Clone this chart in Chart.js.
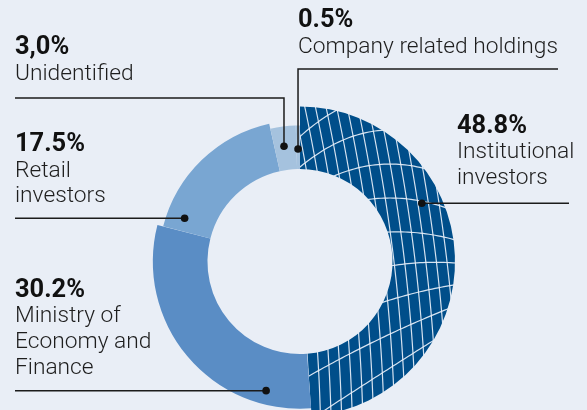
<!DOCTYPE html>
<html>
<head>
<meta charset="utf-8">
<script src="https://cdn.jsdelivr.net/npm/chart.js@4.4.1/dist/chart.umd.min.js"></script>
<style>
  html, body { margin: 0; padding: 0; background: #e9eef6; overflow: hidden; }
  #wrap { position: relative; width: 587px; height: 430px; }
</style>
</head>
<body>
<div id="wrap"><canvas id="chart"></canvas></div>
<script>
// Shareholder structure donut

const categories = ['Institutional investors', 'Ministry of Economy and Finance', 'Retail investors', 'Unidentified', 'Company related holdings'];
const shares = [48.8, 30.2, 17.5, 3.0, 0.5];
const shareLabels = ['48.8%', '30.2%', '17.5%', '3,0%', '0.5%'];
const nameLines = [
    ['Institutional', 'investors'],
    ['Ministry of', 'Economy and', 'Finance'],
    ['Retail', 'investors'],
    ['Unidentified'],
    ['Company related holdings']
];

const colors = ['#004e8a', '#5a8dc5', '#79a6d2', '#a5c2de', '#a5c2de'];
// how much of the ring thickness each slice fills
const ringDepth = [1, 0.875, 0.78, 0.695, 0.695];

// callout layout: text anchor, leader type, dot position along its arc (0..1) and across it
const callouts = [
    { x: 457, y: 132.7, dotAt: 0.367, depth: 0.68, lead: 'right', to: 569 },
    { x: 15, y: 296.7, dotAt: 0.175, depth: 0.75, lead: 'left', to: 15 },
    { x: 15, y: 151, dotAt: 0.098, depth: 0.63, lead: 'left', to: 15 },
    { x: 15, y: 54, dotAt: 0.435, depth: 0.55, lead: 'elbow', to: 15, elbowY: 98 },
    { x: 298, y: 27.3, dotAt: 0.44, depth: 0.46, lead: 'elbow', to: 558, elbowY: 69 }
];
const lineGap = 25.7;
const FONT = 'Roboto, Lato, sans-serif';

function gridPattern(w, h) {
    const c = document.createElement('canvas');
    c.width = w;
    c.height = h;
    const g = c.getContext('2d');
    g.fillStyle = colors[0];
    g.fillRect(0, 0, w, h);
    g.strokeStyle = 'rgba(232, 240, 250, 0.92)';
    g.lineWidth = 1.2;

    // near-vertical lines
    for (let x0 = 150; x0 < 660; x0 += 10.6) {
        g.beginPath();
        for (let y = 80; y <= h; y += 4) {
            const x = x0 + 0.12 * (y - 260) - 0.0003 * (y - 260) ** 2;
            if (y === 80) g.moveTo(x, y); else g.lineTo(x, y);
        }
        g.stroke();
    }

    // curved cross lines
    for (let yk = 96; yk < 500; yk += 34) {
        const t = Math.min(Math.max((yk - 110) / 270, 0), 1);
        const a = 0.005 * Math.pow(1 - t, 1.2);
        const m = 0.7 * Math.pow(Math.max(0, (t - 0.4) / 0.6), 1.2);
        g.beginPath();
        for (let x = 270; x <= 480; x += 3) {
            const y = yk + a * (x - 390) ** 2 - m * (x - 390);
            if (x === 270) g.moveTo(x, y); else g.lineTo(x, y);
        }
        g.stroke();
    }
    return g.createPattern(c, 'no-repeat');
}

const ringDepthPlugin = {
    id: 'ringDepth',
    afterDatasetsUpdate(chart) {
        const meta = chart.getDatasetMeta(0);
        const ctrl = meta.controller;
        meta.data.forEach((arc, i) => {
            arc.outerRadius = ctrl.innerRadius + (ctrl.outerRadius - ctrl.innerRadius) * ringDepth[i];
        });
    }
};

const calloutPlugin = {
    id: 'callouts',
    afterDraw(chart) {
        const ctx = chart.ctx;
        const arcs = chart.getDatasetMeta(0).data;

        ctx.save();
        ctx.font = '300 20px ' + FONT;
        const nameSize = 20 * 260 / ctx.measureText('Company related holdings').width;
        ctx.font = '700 20px ' + FONT;
        const pctSize = 20 * 70 / ctx.measureText('30.2%').width;

        callouts.forEach((c, i) => {
            const arc = arcs[i];
            const ang = arc.startAngle + (arc.endAngle - arc.startAngle) * c.dotAt;
            const r = arc.innerRadius + (arc.outerRadius - arc.innerRadius) * c.depth;
            const dx = arc.x + r * Math.cos(ang);
            const dy = arc.y + r * Math.sin(ang);

            ctx.strokeStyle = '#1b1b1b';
            ctx.lineWidth = 1.5;
            ctx.beginPath();
            if (c.lead === 'elbow') {
                ctx.moveTo(c.to, c.elbowY);
                ctx.lineTo(dx, c.elbowY);
                ctx.lineTo(dx, dy);
            } else {
                ctx.moveTo(c.to, dy);
                ctx.lineTo(dx, dy);
            }
            ctx.stroke();

            ctx.fillStyle = '#111';
            ctx.beginPath();
            ctx.arc(dx, dy, 3.8, 0, Math.PI * 2);
            ctx.fill();

            ctx.textAlign = 'left';
            ctx.textBaseline = 'alphabetic';
            ctx.font = '700 ' + pctSize + 'px ' + FONT;
            ctx.fillStyle = '#111';
            ctx.fillText(shareLabels[i], c.x, c.y);
            ctx.font = '300 ' + nameSize + 'px ' + FONT;
            ctx.fillStyle = '#1e1e1e';
            nameLines[i].forEach((line, k) => {
                ctx.fillText(line, c.x, c.y + lineGap * (k + 1));
            });
        });
        ctx.restore();
    }
};

const canvas = document.getElementById('chart');
const pattern = gridPattern(587, 430);

new Chart(canvas.getContext('2d'), {
    type: 'doughnut',
    data: {
        labels: categories,
        datasets: [{
            data: shares,
            backgroundColor: [pattern].concat(colors.slice(1)),
            borderWidth: 0,
            hoverOffset: 0,
            radius: 155,
            cutout: '59.7%'
        }]
    },
    options: {
        responsive: true,
        maintainAspectRatio: false,
        animation: false,
        events: [],
        layout: { padding: { left: 13, right: 0, top: 93, bottom: 0 } },
        plugins: {
            legend: { display: false },
            tooltip: { enabled: false }
        }
    },
    plugins: [ringDepthPlugin, calloutPlugin]
});
</script>
</body>
</html>
